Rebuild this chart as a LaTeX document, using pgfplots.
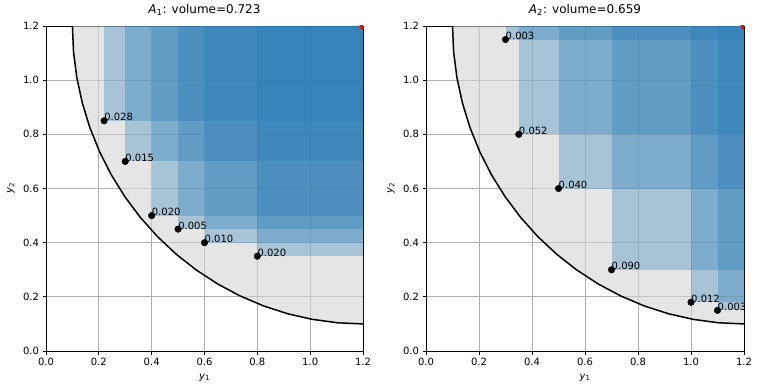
\documentclass[border=0pt]{standalone}
\usepackage{pgfplots}
\pgfplotsset{compat=1.18}
\usepackage{fontspec}
\setmainfont{DejaVu Sans}
\definecolor{tabblue}{RGB}{31,119,180}
\definecolor{lgray}{RGB}{211,211,211}
\definecolor{gridc}{RGB}{176,176,176}
\pgfplotsset{
  hv/.style={
    anchor=south west,
    scale only axis,
    height=325bp,
    xmin=0, xmax=1.2, ymin=0, ymax=1.2,
    xtick={0,0.2,...,1.21}, ytick={0,0.2,...,1.21},
    tick label style={font=\fontsize{10bp}{12bp}\selectfont},
    /pgf/number format/.cd, fixed, fixed zerofill, precision=1, assume math mode=true, /pgfplots/.cd,
    tick align=outside, tick pos=left,
    major tick length=3.5bp,
    every tick/.style={black, line width=0.8bp},
    axis line style={line width=0.8bp},
    grid=major,
    major grid style={gridc, line width=0.8bp},
    title style={font=\fontsize{12bp}{14bp}\selectfont, at={(axis description cs:0.5,1)}, anchor=base, yshift=7bp, inner sep=0pt},
    label style={font=\fontsize{10bp}{12bp}\selectfont},
    every axis x label/.style={at={(axis description cs:0.5,0)}, anchor=base, yshift=-28bp, inner sep=0pt},
    every axis y label/.style={at={(axis description cs:-0.105,0.5)}, rotate=90, anchor=base, inner sep=0pt},
    xlabel={\textit{y}\textsubscript{1}},
    ylabel={\textit{y}\textsubscript{2}},
    clip marker paths=true,
  },
  rect/.style={draw=none, fill=tabblue, fill opacity=0.3, forget plot},
  pts/.style={only marks, mark=*, mark size=3.3bp, black, mark options={fill=black},
    nodes near coords, point meta=explicit symbolic,
    nodes near coords style={font=\fontsize{10bp}{12bp}\selectfont, anchor=base west, inner sep=0pt, text=black}},
}
\begin{document}
\begin{tikzpicture}[x=1bp,y=1bp]
\path[use as bounding box] (0,0) rectangle (758,391);
% ---------------- A1 ----------------
\begin{axis}[hv, at={(46bp,40bp)}, width=317bp, title={\textit{A}\textsubscript{1}: volume=0.723}]
\addplot[draw=none, fill=lgray, fill opacity=0.6] coordinates {
(0.1,1.2) (0.10419,1.10413) (0.11671,1.00899) (0.13748,0.91530) (0.16634,0.82378)
(0.20306,0.73512) (0.24737,0.65) (0.29893,0.56906) (0.35736,0.49293) (0.42218,0.42218)
(0.49293,0.35736) (0.56906,0.29893) (0.65,0.24737) (0.73512,0.20306) (0.82378,0.16634)
(0.91530,0.13748) (1.00899,0.11671) (1.10413,0.10419) (1.2,0.1) (1.2,1.2)};
\addplot[rect] coordinates {(0.22,0.85) (1.2,0.85) (1.2,1.2) (0.22,1.2)};
\addplot[rect] coordinates {(0.3,0.7) (1.2,0.7) (1.2,1.2) (0.3,1.2)};
\addplot[rect] coordinates {(0.4,0.5) (1.2,0.5) (1.2,1.2) (0.4,1.2)};
\addplot[rect] coordinates {(0.5,0.45) (1.2,0.45) (1.2,1.2) (0.5,1.2)};
\addplot[rect] coordinates {(0.6,0.4) (1.2,0.4) (1.2,1.2) (0.6,1.2)};
\addplot[rect] coordinates {(0.8,0.35) (1.2,0.35) (1.2,1.2) (0.8,1.2)};
\addplot[black, line width=1.5bp] coordinates {
(0.1,1.2) (0.10419,1.10413) (0.11671,1.00899) (0.13748,0.91530) (0.16634,0.82378)
(0.20306,0.73512) (0.24737,0.65) (0.29893,0.56906) (0.35736,0.49293) (0.42218,0.42218)
(0.49293,0.35736) (0.56906,0.29893) (0.65,0.24737) (0.73512,0.20306) (0.82378,0.16634)
(0.91530,0.13748) (1.00899,0.11671) (1.10413,0.10419) (1.2,0.1)};
\addplot[pts] coordinates {(0.22,0.85) [0.028] (0.3,0.7) [0.015] (0.4,0.5) [0.020]
 (0.5,0.45) [0.005] (0.6,0.4) [0.010] (0.8,0.35) [0.020]};
\addplot[only marks, mark=*, mark size=3.3bp, red] coordinates {(1.2,1.2)};
\end{axis}
% ---------------- A2 ----------------
\begin{axis}[hv, at={(426bp,40bp)}, width=318bp, title={\textit{A}\textsubscript{2}: volume=0.659}]
\addplot[draw=none, fill=lgray, fill opacity=0.6] coordinates {
(0.1,1.2) (0.10419,1.10413) (0.11671,1.00899) (0.13748,0.91530) (0.16634,0.82378)
(0.20306,0.73512) (0.24737,0.65) (0.29893,0.56906) (0.35736,0.49293) (0.42218,0.42218)
(0.49293,0.35736) (0.56906,0.29893) (0.65,0.24737) (0.73512,0.20306) (0.82378,0.16634)
(0.91530,0.13748) (1.00899,0.11671) (1.10413,0.10419) (1.2,0.1) (1.2,1.2)};
\addplot[rect] coordinates {(0.3,1.15) (1.2,1.15) (1.2,1.2) (0.3,1.2)};
\addplot[rect] coordinates {(0.35,0.8) (1.2,0.8) (1.2,1.2) (0.35,1.2)};
\addplot[rect] coordinates {(0.5,0.6) (1.2,0.6) (1.2,1.2) (0.5,1.2)};
\addplot[rect] coordinates {(0.7,0.3) (1.2,0.3) (1.2,1.2) (0.7,1.2)};
\addplot[rect] coordinates {(1.0,0.18) (1.2,0.18) (1.2,1.2) (1.0,1.2)};
\addplot[rect] coordinates {(1.1,0.15) (1.2,0.15) (1.2,1.2) (1.1,1.2)};
\addplot[black, line width=1.5bp] coordinates {
(0.1,1.2) (0.10419,1.10413) (0.11671,1.00899) (0.13748,0.91530) (0.16634,0.82378)
(0.20306,0.73512) (0.24737,0.65) (0.29893,0.56906) (0.35736,0.49293) (0.42218,0.42218)
(0.49293,0.35736) (0.56906,0.29893) (0.65,0.24737) (0.73512,0.20306) (0.82378,0.16634)
(0.91530,0.13748) (1.00899,0.11671) (1.10413,0.10419) (1.2,0.1)};
\addplot[pts] coordinates {(0.3,1.15) [0.003] (0.35,0.8) [0.052] (0.5,0.6) [0.040]
 (0.7,0.3) [0.090] (1.0,0.18) [0.012] (1.1,0.15) [0.003]};
\addplot[only marks, mark=*, mark size=3.3bp, red] coordinates {(1.2,1.2)};
\end{axis}
\end{tikzpicture}
\end{document}
